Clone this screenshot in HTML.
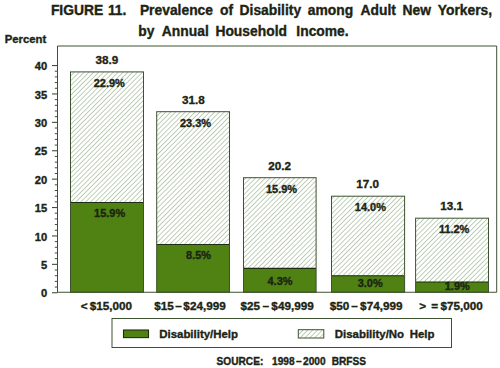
<!DOCTYPE html>
<html><head><meta charset="utf-8">
<style>
html,body{margin:0;padding:0;background:#fff;width:500px;height:368px;overflow:hidden}
svg{display:block}
text{font-family:"Liberation Sans",sans-serif;fill:#1c2414;white-space:pre}
text{stroke:#1c2414;stroke-width:0.35px}
</style></head><body>
<svg width="500" height="368" viewBox="0 0 500 368">
<defs>
<pattern id="h" patternUnits="userSpaceOnUse" width="3.44" height="3.44" patternTransform="rotate(45)">
<rect x="0" y="0" width="0.85" height="3.44" fill="#b4c8ac"/>
</pattern>
</defs>
<rect width="500" height="368" fill="#fff"/>

<line x1="52" y1="292.75" x2="57.5" y2="292.75" stroke="#3c5230" stroke-width="1.1"/>
<line x1="54.8" y1="287.07" x2="57.5" y2="287.07" stroke="#3c5230" stroke-width="1"/>
<line x1="54.8" y1="281.39" x2="57.5" y2="281.39" stroke="#3c5230" stroke-width="1"/>
<line x1="54.8" y1="275.71" x2="57.5" y2="275.71" stroke="#3c5230" stroke-width="1"/>
<line x1="54.8" y1="270.03" x2="57.5" y2="270.03" stroke="#3c5230" stroke-width="1"/>
<line x1="52" y1="264.35" x2="57.5" y2="264.35" stroke="#3c5230" stroke-width="1.1"/>
<line x1="54.8" y1="258.67" x2="57.5" y2="258.67" stroke="#3c5230" stroke-width="1"/>
<line x1="54.8" y1="252.99" x2="57.5" y2="252.99" stroke="#3c5230" stroke-width="1"/>
<line x1="54.8" y1="247.31" x2="57.5" y2="247.31" stroke="#3c5230" stroke-width="1"/>
<line x1="54.8" y1="241.63" x2="57.5" y2="241.63" stroke="#3c5230" stroke-width="1"/>
<line x1="52" y1="235.95" x2="57.5" y2="235.95" stroke="#3c5230" stroke-width="1.1"/>
<line x1="54.8" y1="230.27" x2="57.5" y2="230.27" stroke="#3c5230" stroke-width="1"/>
<line x1="54.8" y1="224.59" x2="57.5" y2="224.59" stroke="#3c5230" stroke-width="1"/>
<line x1="54.8" y1="218.91" x2="57.5" y2="218.91" stroke="#3c5230" stroke-width="1"/>
<line x1="54.8" y1="213.23" x2="57.5" y2="213.23" stroke="#3c5230" stroke-width="1"/>
<line x1="52" y1="207.55" x2="57.5" y2="207.55" stroke="#3c5230" stroke-width="1.1"/>
<line x1="54.8" y1="201.87" x2="57.5" y2="201.87" stroke="#3c5230" stroke-width="1"/>
<line x1="54.8" y1="196.19" x2="57.5" y2="196.19" stroke="#3c5230" stroke-width="1"/>
<line x1="54.8" y1="190.51" x2="57.5" y2="190.51" stroke="#3c5230" stroke-width="1"/>
<line x1="54.8" y1="184.83" x2="57.5" y2="184.83" stroke="#3c5230" stroke-width="1"/>
<line x1="52" y1="179.15" x2="57.5" y2="179.15" stroke="#3c5230" stroke-width="1.1"/>
<line x1="54.8" y1="173.47" x2="57.5" y2="173.47" stroke="#3c5230" stroke-width="1"/>
<line x1="54.8" y1="167.79" x2="57.5" y2="167.79" stroke="#3c5230" stroke-width="1"/>
<line x1="54.8" y1="162.11" x2="57.5" y2="162.11" stroke="#3c5230" stroke-width="1"/>
<line x1="54.8" y1="156.43" x2="57.5" y2="156.43" stroke="#3c5230" stroke-width="1"/>
<line x1="52" y1="150.75" x2="57.5" y2="150.75" stroke="#3c5230" stroke-width="1.1"/>
<line x1="54.8" y1="145.07" x2="57.5" y2="145.07" stroke="#3c5230" stroke-width="1"/>
<line x1="54.8" y1="139.39" x2="57.5" y2="139.39" stroke="#3c5230" stroke-width="1"/>
<line x1="54.8" y1="133.71" x2="57.5" y2="133.71" stroke="#3c5230" stroke-width="1"/>
<line x1="54.8" y1="128.03" x2="57.5" y2="128.03" stroke="#3c5230" stroke-width="1"/>
<line x1="52" y1="122.35" x2="57.5" y2="122.35" stroke="#3c5230" stroke-width="1.1"/>
<line x1="54.8" y1="116.67" x2="57.5" y2="116.67" stroke="#3c5230" stroke-width="1"/>
<line x1="54.8" y1="110.99" x2="57.5" y2="110.99" stroke="#3c5230" stroke-width="1"/>
<line x1="54.8" y1="105.31" x2="57.5" y2="105.31" stroke="#3c5230" stroke-width="1"/>
<line x1="54.8" y1="99.63" x2="57.5" y2="99.63" stroke="#3c5230" stroke-width="1"/>
<line x1="52" y1="93.95" x2="57.5" y2="93.95" stroke="#3c5230" stroke-width="1.1"/>
<line x1="54.8" y1="88.27" x2="57.5" y2="88.27" stroke="#3c5230" stroke-width="1"/>
<line x1="54.8" y1="82.59" x2="57.5" y2="82.59" stroke="#3c5230" stroke-width="1"/>
<line x1="54.8" y1="76.91" x2="57.5" y2="76.91" stroke="#3c5230" stroke-width="1"/>
<line x1="54.8" y1="71.23" x2="57.5" y2="71.23" stroke="#3c5230" stroke-width="1"/>
<line x1="52" y1="65.55" x2="57.5" y2="65.55" stroke="#3c5230" stroke-width="1.1"/>
<rect x="70.5" y="71.9" width="73.00" height="220.30" fill="url(#h)"/>
<rect x="70.5" y="202.44" width="73.00" height="89.76" fill="#4f8212"/>
<line x1="70.5" y1="202.44" x2="143.5" y2="202.44" stroke="#1e2c12" stroke-width="1.1"/>
<rect x="70.5" y="71.9" width="73.00" height="220.30" fill="none" stroke="#3c5230" stroke-width="1"/>
<rect x="156.7" y="111.7" width="72.80" height="180.50" fill="url(#h)"/>
<rect x="156.7" y="244.47" width="72.80" height="47.73" fill="#4f8212"/>
<line x1="156.7" y1="244.47" x2="229.5" y2="244.47" stroke="#1e2c12" stroke-width="1.1"/>
<rect x="156.7" y="111.7" width="72.80" height="180.50" fill="none" stroke="#3c5230" stroke-width="1"/>
<rect x="243.5" y="177.7" width="72.60" height="114.50" fill="url(#h)"/>
<rect x="243.5" y="268.33" width="72.60" height="23.87" fill="#4f8212"/>
<line x1="243.5" y1="268.33" x2="316.1" y2="268.33" stroke="#1e2c12" stroke-width="1.1"/>
<rect x="243.5" y="177.7" width="72.60" height="114.50" fill="none" stroke="#3c5230" stroke-width="1"/>
<rect x="331.5" y="196.2" width="73.10" height="96.00" fill="url(#h)"/>
<rect x="331.5" y="275.71" width="73.10" height="16.49" fill="#4f8212"/>
<line x1="331.5" y1="275.71" x2="404.6" y2="275.71" stroke="#1e2c12" stroke-width="1.1"/>
<rect x="331.5" y="196.2" width="73.10" height="96.00" fill="none" stroke="#3c5230" stroke-width="1"/>
<rect x="415.6" y="218.2" width="72.90" height="74.00" fill="url(#h)"/>
<rect x="415.6" y="281.96" width="72.90" height="10.24" fill="#4f8212"/>
<line x1="415.6" y1="281.96" x2="488.5" y2="281.96" stroke="#1e2c12" stroke-width="1.1"/>
<rect x="415.6" y="218.2" width="72.90" height="74.00" fill="none" stroke="#3c5230" stroke-width="1"/>
<line x1="57.5" y1="46" x2="57.5" y2="292.5" stroke="#3c5230" stroke-width="1"/>
<line x1="57.5" y1="46" x2="496.7" y2="46" stroke="#3c5230" stroke-width="1"/>
<line x1="496.7" y1="46" x2="496.7" y2="292.2" stroke="#3c5230" stroke-width="1"/>
<line x1="57.5" y1="292.2" x2="496.7" y2="292.2" stroke="#3c5230" stroke-width="1.1"/>
<rect x="112" y="318.5" width="339.5" height="29" fill="none" stroke="#3c5230" stroke-width="1"/>
<rect x="123.5" y="330" width="25" height="7.6" fill="#4f8212" stroke="#1e2c12" stroke-width="1.1"/>
<rect x="298.3" y="329.7" width="25.5" height="8.3" fill="url(#h)" stroke="#3c5230" stroke-width="1"/>
<text x="50.90" y="14.96" font-size="13.85" font-weight="bold">FIGURE</text>
<text x="107.92" y="14.96" font-size="13.85" font-weight="bold">11.</text>
<text x="139.90" y="14.96" font-size="13.85" font-weight="bold">Prevalence</text>
<text x="220.08" y="14.96" font-size="13.85" font-weight="bold">of</text>
<text x="239.59" y="14.96" font-size="13.85" font-weight="bold">Disability</text>
<text x="307.76" y="14.96" font-size="13.85" font-weight="bold">among</text>
<text x="360.52" y="14.96" font-size="13.85" font-weight="bold">Adult</text>
<text x="402.59" y="14.96" font-size="13.85" font-weight="bold">New</text>
<text x="437.73" y="14.96" font-size="13.85" font-weight="bold">Yorkers,</text>
<text x="138.25" y="35.71" font-size="13.85" font-weight="bold">by</text>
<text x="161.85" y="35.71" font-size="13.85" font-weight="bold">Annual</text>
<text x="215.42" y="35.71" font-size="13.85" font-weight="bold">Household</text>
<text x="296.35" y="35.71" font-size="13.85" font-weight="bold">Income.</text>
<text x="4.74" y="42.90" font-size="11.34" font-weight="bold">Percent</text>
<text x="41.04" y="297.40" font-size="11.17" font-weight="bold">0</text>
<text x="40.90" y="269.00" font-size="11.17" font-weight="bold">5</text>
<text x="34.83" y="240.60" font-size="11.17" font-weight="bold">10</text>
<text x="34.68" y="212.20" font-size="11.17" font-weight="bold">15</text>
<text x="34.83" y="183.80" font-size="11.17" font-weight="bold">20</text>
<text x="34.68" y="155.40" font-size="11.17" font-weight="bold">25</text>
<text x="34.83" y="127.00" font-size="11.17" font-weight="bold">30</text>
<text x="34.68" y="98.60" font-size="11.17" font-weight="bold">35</text>
<text x="34.83" y="70.20" font-size="11.17" font-weight="bold">40</text>
<text x="95.50" y="64.08" font-size="11.69" font-weight="bold">38.9</text>
<text x="181.92" y="103.88" font-size="11.69" font-weight="bold">31.8</text>
<text x="268.15" y="169.83" font-size="11.69" font-weight="bold">20.2</text>
<text x="356.34" y="187.88" font-size="11.69" font-weight="bold">17.0</text>
<text x="440.17" y="210.38" font-size="11.69" font-weight="bold">13.1</text>
<text x="93.77" y="86.52" font-size="10.96" font-weight="bold">22.9%</text>
<text x="179.92" y="126.52" font-size="10.96" font-weight="bold">23.3%</text>
<text x="266.02" y="193.02" font-size="10.96" font-weight="bold">15.9%</text>
<text x="354.82" y="210.77" font-size="10.96" font-weight="bold">14.0%</text>
<text x="438.92" y="233.17" font-size="10.96" font-weight="bold">11.2%</text>
<text x="94.12" y="217.02" font-size="10.96" font-weight="bold">15.9%</text>
<text x="186.09" y="259.17" font-size="10.96" font-weight="bold">8.5%</text>
<text x="267.53" y="284.52" font-size="10.96" font-weight="bold">4.3%</text>
<text x="357.68" y="287.02" font-size="10.96" font-weight="bold">3.0%</text>
<text x="444.76" y="290.32" font-size="10.96" font-weight="bold">1.9%</text>
<text x="80.87" y="310.34" font-size="11.72" font-weight="bold"><</text>
<text x="89.68" y="310.34" font-size="11.72" font-weight="bold">$15,000</text>
<text x="154.31" y="310.34" font-size="11.72" font-weight="bold">$15</text>
<text x="175.27" y="310.34" font-size="11.72" font-weight="bold">–</text>
<text x="183.36" y="310.34" font-size="11.72" font-weight="bold">$24,999</text>
<text x="240.56" y="310.34" font-size="11.72" font-weight="bold">$25</text>
<text x="262.40" y="310.34" font-size="11.72" font-weight="bold">–</text>
<text x="271.36" y="310.34" font-size="11.72" font-weight="bold">$49,999</text>
<text x="329.64" y="310.34" font-size="11.72" font-weight="bold">$50</text>
<text x="351.23" y="310.34" font-size="11.72" font-weight="bold">–</text>
<text x="360.11" y="310.34" font-size="11.72" font-weight="bold">$74,999</text>
<text x="419.37" y="310.34" font-size="11.72" font-weight="bold">></text>
<text x="431.23" y="310.34" font-size="11.72" font-weight="bold">=</text>
<text x="440.43" y="310.34" font-size="11.72" font-weight="bold">$75,000</text>
<text x="159.23" y="338.04" font-size="11.44" font-weight="bold">Disability/Help</text>
<text x="334.79" y="338.04" font-size="11.44" font-weight="bold">Disability/No</text>
<text x="409.76" y="338.04" font-size="11.44" font-weight="bold">Help</text>
<text x="216.58" y="364.99" font-size="10.13" font-weight="bold">SOURCE:</text>
<text x="272.12" y="364.99" font-size="10.13" font-weight="bold">1998</text>
<text x="296.09" y="364.99" font-size="10.13" font-weight="bold">–</text>
<text x="303.11" y="364.99" font-size="10.13" font-weight="bold">2000</text>
<text x="331.74" y="364.99" font-size="10.13" font-weight="bold">BRFSS</text>
</svg></body></html>
